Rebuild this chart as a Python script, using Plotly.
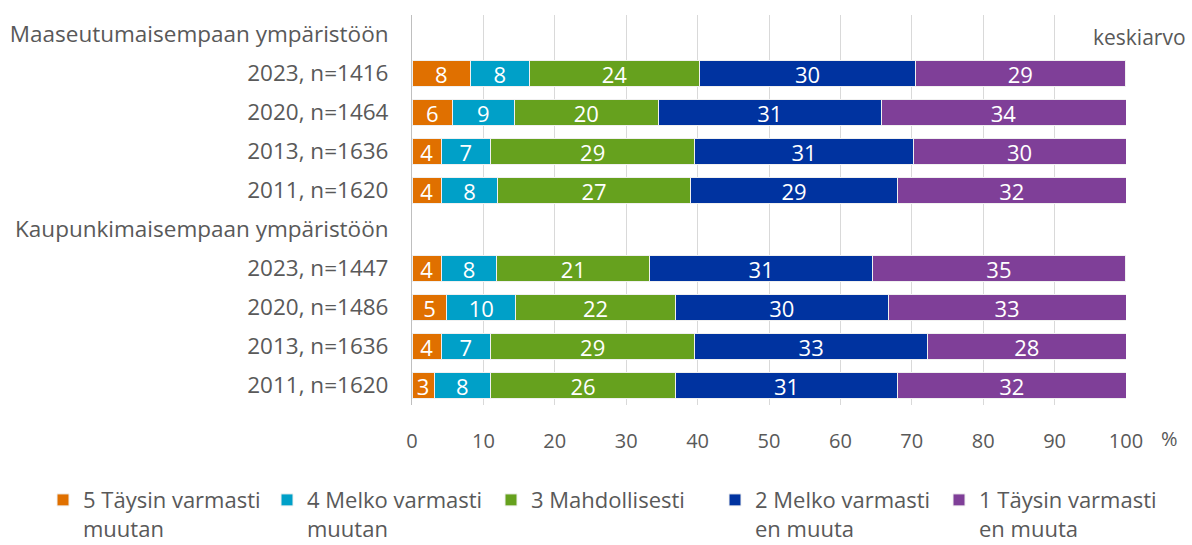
import plotly.graph_objects as go

# Row labels (top to bottom) -- headers have no bars
row_labels = [
    "Maaseutumaisempaan ympäristöön",
    "2023, n=1416", "2020, n=1464", "2013, n=1636", "2011, n=1620",
    "Kaupunkimaisempaan ympäristöön",
    "2023, n=1447", "2020, n=1486", "2013, n=1636", "2011, n=1620",
]
data_rows = [1, 2, 3, 4, 6, 7, 8, 9]

series_names = [
    "5 Täysin varmasti<br>muutan",
    "4 Melko varmasti<br>muutan",
    "3 Mahdollisesti",
    "2 Melko varmasti<br>en muuta",
    "1 Täysin varmasti<br>en muuta",
]
s5 = [8.2, 5.7, 4.1, 4.1, 4.1, 4.9, 4.1, 3.1]
s4 = [8.2, 8.6, 6.9, 7.9, 7.8, 9.6, 6.9, 7.9]
s3 = [23.9, 20.2, 28.6, 27.0, 21.4, 22.4, 28.6, 25.9]
s2 = [30.2, 31.2, 30.6, 29.0, 31.2, 29.8, 32.6, 31.1]
s1 = [29.4, 34.3, 29.8, 32.0, 35.4, 33.3, 27.8, 32.0]
averages = ["2,35", "2,20", "2,23", "2,23", "2,14", "2,23", "2,25", "2,18"]

x_ticks = list(range(0, 101, 10))

colors = ["#E07000", "#00A0C8", "#66A11E", "#0033A0", "#7F3F98"]
FONT = "Open Sans"
GRAY = "#595959"

fig = go.Figure()
for name, vals, col in zip(series_names, [s5, s4, s3, s2, s1], colors):
    fig.add_trace(go.Bar(
        x=vals, y=data_rows, orientation="h", name=name,
        marker=dict(color=col, line=dict(color="#F0F0F0", width=1)),
        texttemplate="%{x:.0f}", textposition="inside",
        insidetextanchor="middle", constraintext="none", textangle=0,
        insidetextfont=dict(color="white", size=22, family=FONT),
        hoverinfo="skip",
    ))

annotations = []
for r, a in zip(data_rows, averages):
    annotations.append(dict(x=105.3, y=r, xref="x", yref="y", text=a,
                            showarrow=False, xanchor="center", yanchor="middle",
                            font=dict(size=21, color=GRAY, family=FONT)))
annotations.append(dict(x=1.0868, y=0, xref="paper", yref="y", text="keskiarvo",
                        showarrow=False, xanchor="right", yanchor="middle", yshift=-2,
                        font=dict(size=21, color=GRAY, family=FONT)))
annotations.append(dict(x=1.0608, y=-0.087, xref="paper", yref="paper", text="%",
                        showarrow=False, xanchor="center", yanchor="middle",
                        font=dict(size=20, color=GRAY, family=FONT)))

fig.update_layout(
    barmode="stack",
    bargap=0.34,
    width=1192, height=545,
    margin=dict(l=412, r=66, t=15, b=140, autoexpand=False),
    paper_bgcolor="white", plot_bgcolor="white",
    font=dict(family=FONT, size=20, color=GRAY),
    annotations=annotations,
    legend=dict(orientation="h", x=-0.5168, xanchor="left", y=-0.19, yanchor="top",
                valign="top", entrywidth=179, entrywidthmode="pixels",
                traceorder="normal",
                font=dict(size=22, color=GRAY, family=FONT),
                bgcolor="rgba(0,0,0,0)"),
    xaxis=dict(range=[0, 100], tickvals=x_ticks, showgrid=True, gridcolor="#D9D9D9",
               gridwidth=1, zeroline=False, showline=False, ticks="",
               ticklabelstandoff=22, tickfont=dict(size=20, color=GRAY, family=FONT),
               fixedrange=True, automargin=False),
    yaxis=dict(range=[9.5, -0.5], tickvals=list(range(10)), ticktext=row_labels,
               showgrid=False, zeroline=False, showline=True, linecolor="#BFBFBF",
               linewidth=1, ticks="", ticklabelstandoff=18,
               tickfont=dict(size=22.5, color=GRAY, family=FONT), fixedrange=True,
               automargin=False),
)

fig.write_html("out.html", config={"displayModeBar": False},
               post_script="document.body.style.margin='0';")
